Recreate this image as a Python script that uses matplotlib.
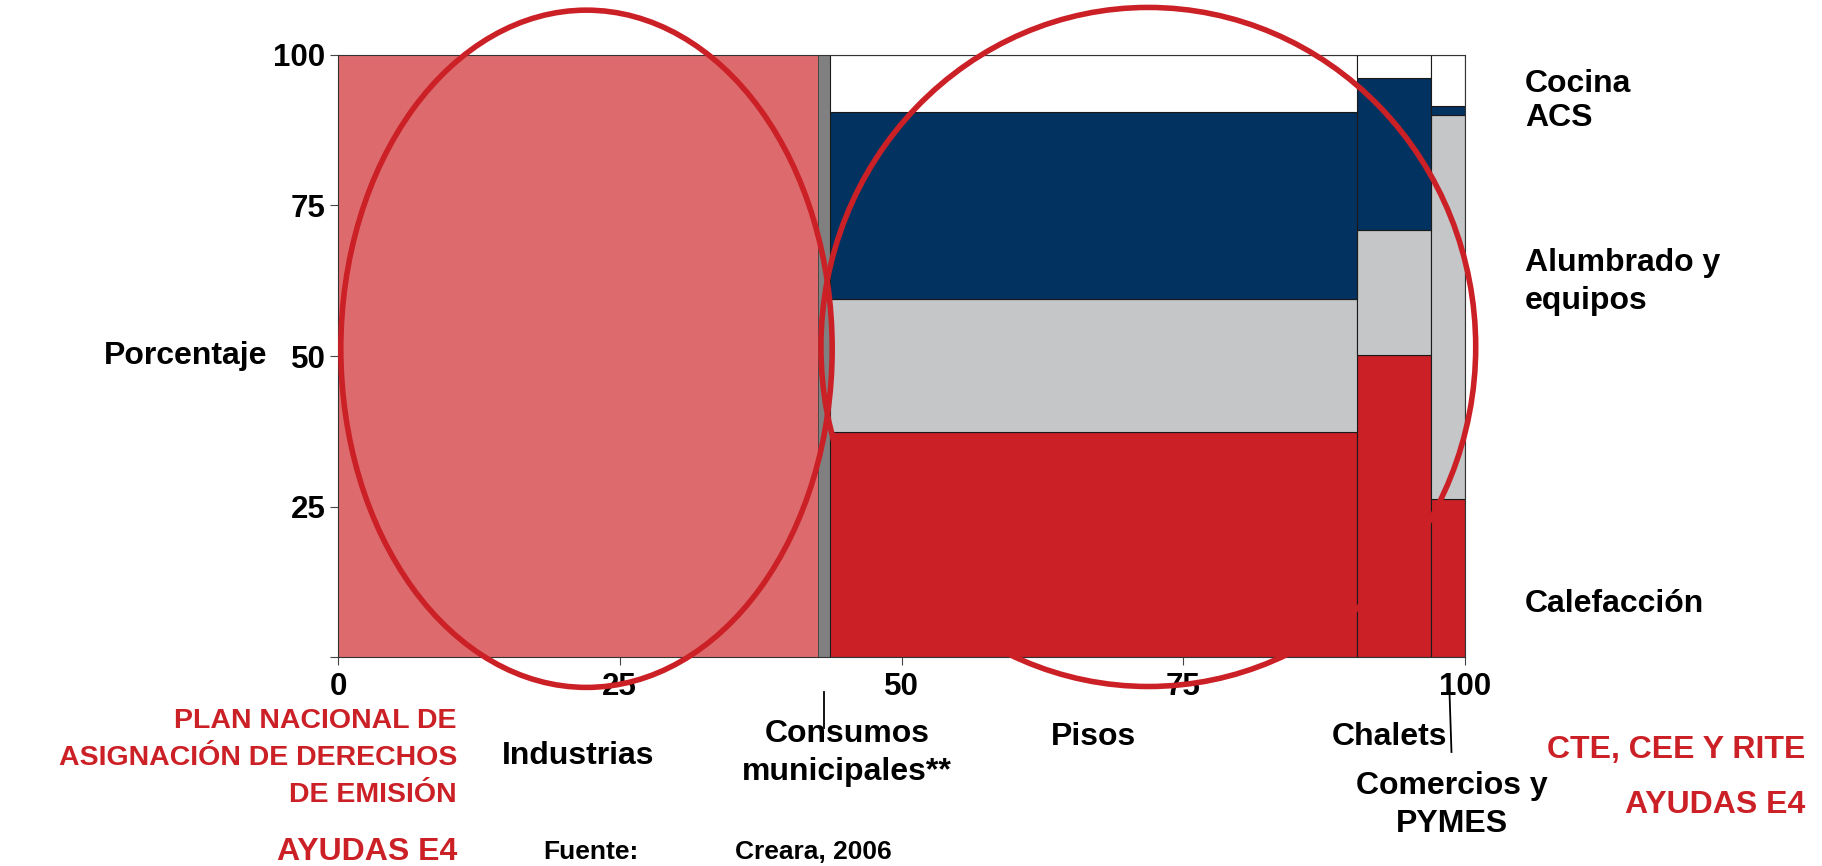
import numpy as np
import matplotlib.pyplot as plt
import matplotlib.transforms as mtransforms
from matplotlib.patches import Ellipse

plt.rcParams['font.family'] = ['Liberation Sans', 'DejaVu Sans']
plt.rcParams['font.weight'] = 'bold'

# anchura de cada sector (% del consumo total)
sectores = ['Industrias', 'Consumos\nmunicipales**', 'Pisos', 'Chalets', 'Comercios y\nPYMES']
anchos = np.array([42.6, 1.1, 46.7, 6.6, 3.0])

# reparto por usos en los sectores residencial y terciario (%)
usos = ['Calefacción', 'Alumbrado y\nequipos', 'ACS', 'Cocina']
calefaccion = np.array([37.3, 50.1, 26.2])
alumbrado = np.array([22.2, 20.9, 63.9])
acs = np.array([31.1, 25.2, 1.5])
cocina = np.array([9.4, 3.8, 8.4])

c_rojo = '#CC2027'
c_rosa = '#DD6B6D'
c_gris = '#C4C6C8'
c_azul = '#02325F'
c_gris_osc = '#808080'

W, H = 1822, 866
fig = plt.figure(figsize=(W / 100, H / 100), dpi=100)
ax = fig.add_axes([338 / W, 1 - 657 / H, (1465 - 338) / W, (657 - 55) / H])

izq = np.concatenate([[0], np.cumsum(anchos)[:-1]])
centros = izq + anchos / 2

# industria y consumos municipales: un solo bloque
ax.bar(izq[0], 100, anchos[0], align='edge', color=c_rosa, edgecolor='none')
ax.bar(izq[1], 100, anchos[1], align='edge', color=c_gris_osc, edgecolor='#333333', lw=0.6)

# pisos, chalets y comercios apilados por uso
x3, w3 = izq[2:], anchos[2:]
base = np.zeros(3)
for vals, col in [(calefaccion, c_rojo), (alumbrado, c_gris), (acs, c_azul), (cocina, 'white')]:
    ax.bar(x3, vals, w3, bottom=base, align='edge', color=col, edgecolor='#1a1a1a', lw=0.8)
    base = base + vals

ax.set_xlim(0, 100)
ax.set_ylim(0, 100)
ax.set_xticks([0, 25, 50, 75, 100])
ax.set_yticks([0, 25, 50, 75, 100])
ax.set_yticklabels(['', '25', '50', '75', '100'])
ax.tick_params(direction='out', length=6, width=0.8, color='#444444', labelsize=22.5)
ax.tick_params(axis='x', pad=5)
ax.tick_params(axis='y', pad=3)
for s in ax.spines.values():
    s.set_color('#333333')
    s.set_linewidth(0.8)

# elipses de agrupacion
ax.add_patch(Ellipse((22.05, 51.2), 43.6, 112.5, fill=False, ec=c_rojo, lw=4,
                     clip_on=False, zorder=10))
ax.add_patch(Ellipse((71.9, 51.5), 58.1, 112.8, fill=False, ec=c_rojo, lw=4,
                     clip_on=False, zorder=10))

def fy(py):
    return 1 - py / H

def fx(px):
    return px / W

tr = mtransforms.blended_transform_factory(ax.transData, fig.transFigure)
fs = 23
ls = 1.38

fig.text(fx(267), fy(356), 'Porcentaje', ha='right', va='center', fontsize=fs)

# etiquetas de usos a la derecha
fig.text(fx(1525), fy(84), 'Cocina', ha='left', va='center', fontsize=fs)
fig.text(fx(1525), fy(118), 'ACS', ha='left', va='center', fontsize=fs)
fig.text(fx(1525), fy(282), usos[1], ha='left', va='center', fontsize=fs, linespacing=ls)
fig.text(fx(1525), fy(604), usos[0], ha='left', va='center', fontsize=fs)

# etiquetas de sectores bajo el eje
fig.text(centros[0], fy(756), sectores[0], transform=tr, ha='center', va='center', fontsize=fs)
fig.text(centros[1] + 2.0, fy(753), sectores[1], transform=tr, ha='center', va='center',
         fontsize=fs, linespacing=ls)
fig.text(centros[2], fy(737), sectores[2], transform=tr, ha='center', va='center', fontsize=fs)
fig.text(centros[3] - 0.4, fy(737), sectores[3], transform=tr, ha='center', va='center', fontsize=fs)
fig.text(centros[4] + 0.3, fy(805), sectores[4], transform=tr, ha='center', va='center',
         fontsize=fs, linespacing=1.35)
ax.plot([centros[1], centros[1]], [fy(692), fy(728)], transform=tr, color='black', lw=1.3,
        clip_on=False)
ax.plot([centros[4] + 0.1, centros[4] + 0.3], [fy(684), fy(752)], transform=tr, color='black',
        lw=1.3, clip_on=False)

# politicas asociadas
fig.text(fx(457), fy(758), 'PLAN NACIONAL DE\nASIGNACIÓN DE DERECHOS\nDE EMISIÓN', ha='right',
         va='center', fontsize=20.5, color=c_rojo, linespacing=1.56, multialignment='right')
fig.text(fx(457), fy(852), 'AYUDAS E4', ha='right', va='center', fontsize=fs, color=c_rojo)
fig.text(fx(1805), fy(750), 'CTE, CEE Y RITE', ha='right', va='center', fontsize=fs, color=c_rojo)
fig.text(fx(1805), fy(805), 'AYUDAS E4', ha='right', va='center', fontsize=fs, color=c_rojo)

fig.text(fx(591), fy(852), 'Fuente:', ha='center', va='center', fontsize=19)
fig.text(fx(813), fy(852), 'Creara, 2006', ha='center', va='center', fontsize=19)

fig.savefig('out.png', dpi=100, facecolor='white')
